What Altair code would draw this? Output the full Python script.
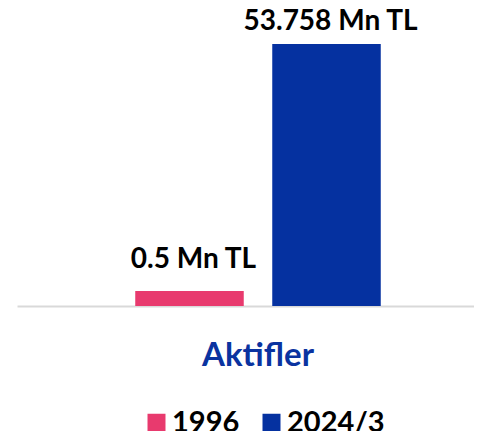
import altair as alt
import pandas as pd

category = ["Aktifler", "Aktifler"]
series = ["1996", "2024/3"]
bar_values = [3.1, 53.758]
labels = ["0.5 Mn TL", "53.758 Mn TL"]
colors = ["#E83A6E", "#0531A0"]

df = pd.DataFrame({"cat": category, "series": series, "value": bar_values, "label": labels})

FONT = "Lato"

x_enc = alt.X("cat:N", title=None,
              scale=alt.Scale(paddingInner=0, paddingOuter=0.02894, align=1),
              axis=alt.Axis(labelAngle=0, ticks=False, labelFont=FONT, labelFontSize=33,
                            labelFontWeight="bold", labelColor="#0A33A0", labelPadding=33,
                            domainColor="#D9D9D9", domainWidth=2, grid=False))
xo_enc = alt.XOffset("series:N", sort=series,
                     scale=alt.Scale(paddingInner=0.208, paddingOuter=0.6806, align=0.5))
y_enc = alt.Y("value:Q", scale=alt.Scale(domain=[0, max(bar_values)], nice=False, zero=True),
              axis=None)

bars = alt.Chart(df).mark_bar().encode(
    x=x_enc, xOffset=xo_enc, y=y_enc,
    color=alt.Color("series:N", sort=series,
                    scale=alt.Scale(domain=series, range=colors),
                    legend=alt.Legend(title=None, orient="none", direction="horizontal",
                                      legendX=125, legendY=364, padding=0,
                                      symbolType="square", symbolSize=324, symbolStrokeWidth=0,
                                      labelFont=FONT, labelFontSize=29, labelFontWeight="bold",
                                      labelColor="#000000", labelOffset=1, columnPadding=17)),
)

def label_layer(s, dy):
    return alt.Chart(df).transform_filter(alt.datum.series == s).mark_text(
        font=FONT, fontSize=28, fontWeight="bold", color="#000000",
        baseline="alphabetic", dy=dy, dx=4).encode(
        x=x_enc, xOffset=xo_enc, y=y_enc, text="label:N")

chart = alt.layer(bars, label_layer(series[0], -23), label_layer(series[1], -14)).properties(
    width=457, height=262,
    background="#FFFFFF",
    autosize=alt.AutoSizeParams(type="none"),
    padding={"left": 9, "top": 36, "right": 0, "bottom": 125},
).configure_view(stroke=None, strokeWidth=0)

chart.save("out.html", embed_options={"renderer": "svg", "actions": False})
